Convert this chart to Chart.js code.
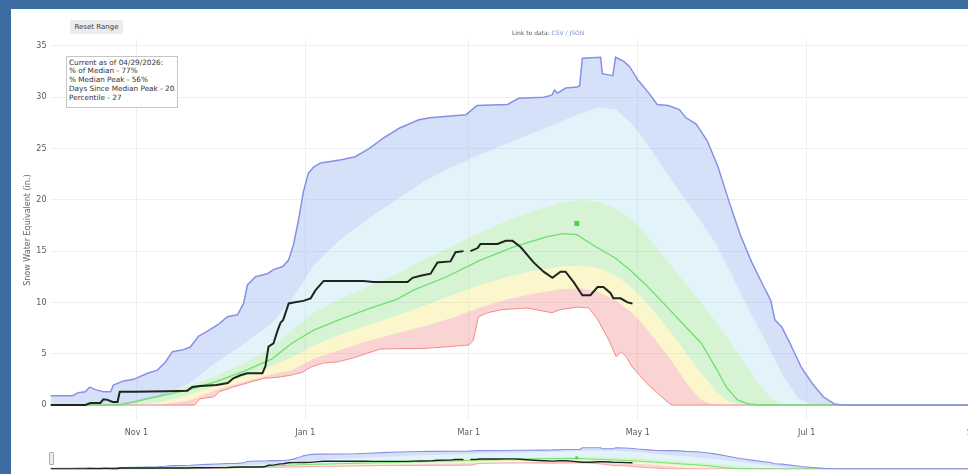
<!DOCTYPE html>
<html lang="en">
<head>
<meta charset="UTF-8">
<title>Snow Water Equivalent</title>
<script src="https://cdn.jsdelivr.net/npm/chart.js"></script>
<style>
  * { box-sizing: border-box; margin: 0; padding: 0; }
  html, body { width: 968px; height: 474px; overflow: hidden; }
  body { background: #3b6da1; position: relative; font-family: 'DejaVu Sans', sans-serif; }
  .panel { position: absolute; left: 11px; top: 9px; width: 1100px; height: 480px; background: #fff; }
  canvas { position: absolute; left: 0; }
  #swe { top: 0; }
  #slider { top: 440px; }
  .reset {
    position: absolute; left: 70px; top: 20px; width: 53px; height: 14px;
    background: #ececec; border-radius: 2px;
    font-size: 7px; line-height: 14px; color: #444; text-align: center;
  }
  .datalink { position: absolute; left: 512px; top: 29px; font-size: 6px; color: #555; white-space: nowrap; }
  .datalink span { color: #7b93d6; }
  .info {
    position: absolute; left: 66px; top: 56px; width: 112px; height: 52px;
    border: 1px solid #c6c6c6; background: #fff; padding: 1.5px 2px;
    font-size: 7.3px; line-height: 8.8px; color: #333; white-space: nowrap;
  }
  .grabber {
    position: absolute; left: 49px; top: 452px; width: 5px; height: 13px;
    background: #eee; border: 1px solid #aaa; border-radius: 1px;
  }
</style>
</head>
<body>
  <div class="panel"></div>
  <canvas id="swe" width="1100" height="445"></canvas>
  <canvas id="slider" width="1100" height="34"></canvas>
  <div class="reset">Reset Range</div>
  <div class="datalink">Link to data: <span>CSV / JSON</span></div>
  <div class="info">
    Current as of 04/29/2026:<br>
    % of Median - 77%<br>
    % Median Peak - 56%<br>
    Days Since Median Peak - 20<br>
    Percentile - 27
  </div>
  <div class="grabber"></div>

<script>
  // x values are days of the water year (0 = Oct 1)
  const tickDays   = [31, 92, 151, 212, 273, 335];
  const tickLabels = ['Nov 1', 'Jan 1', 'Mar 1', 'May 1', 'Jul 1', 'Sep 1'];
  const yTicks     = [0, 5, 10, 15, 20, 25, 30, 35];

  // percentile bands (shared day grid)
  const bandDays = [0, 20, 30, 40, 50, 60, 70, 80, 87, 95, 105, 115, 125, 135, 145, 155, 165, 175, 185, 192,
                    198, 204, 210, 215, 220, 225, 230, 235, 240, 245, 250, 255, 260, 265, 270, 275, 364];
  const p10 = [0, 0, 0, 0.05, 0.45, 1.5, 2.3, 3.0, 3.4, 4.5, 5.4, 6.3, 7.0, 7.7, 8.5, 9.5, 10.3, 10.9, 11.3, 11.4,
               11.0, 10.2, 9.0, 7.5, 5.8, 4.0, 2.0, 0.5, 0, 0, 0, 0, 0, 0, 0, 0, 0];
  const p30 = [0, 0, 0, 0.3, 1.0, 1.9, 2.8, 3.8, 4.6, 5.8, 6.9, 7.8, 8.7, 9.7, 10.7, 11.7, 12.5, 13.1, 13.5, 13.6,
               13.3, 12.6, 11.4, 10.0, 8.4, 6.7, 4.9, 3.1, 1.4, 0.3, 0, 0, 0, 0, 0, 0, 0];
  const p70 = [0, 0, 0.4, 1.1, 1.9, 2.9, 4.1, 5.6, 7.3, 9.0, 10.4, 11.6, 12.8, 14.2, 15.5, 16.8, 18.0, 19.0, 19.8, 20.0,
               19.8, 19.2, 18.0, 16.6, 15.0, 13.3, 11.6, 10.0, 8.2, 6.3, 4.3, 2.3, 0.7, 0, 0, 0, 0];
  const p90 = [0, 0, 0.2, 0.9, 2.1, 4.2, 6.0, 8.0, 10.2, 13.6, 16.2, 18.2, 20.0, 21.8, 23.2, 24.4, 25.5, 26.6, 27.7, 28.5,
               29.0, 28.8, 27.4, 25.6, 23.6, 21.6, 19.7, 17.8, 15.8, 13.2, 10.4, 7.8, 5.2, 2.6, 0.6, 0, 0];

  // median
  const medDays = [0, 25, 30, 40, 50, 60, 70, 80, 87, 95, 105, 115, 125, 131, 143, 155, 167, 179, 185, 190,
                   197, 204, 209, 215, 221, 228, 235, 240, 244, 248, 252, 256, 364];
  const medSwe  = [0, 0, 0.3, 0.9, 1.5, 2.3, 3.3, 4.5, 6.0, 7.3, 8.4, 9.4, 10.3, 11.2, 12.5, 14.1, 15.4, 16.4, 16.7, 16.6,
                   15.4, 14.3, 13.2, 11.7, 10.0, 8.0, 6.0, 3.7, 1.75, 0.5, 0.1, 0, 0];

  // max of record
  const maxDays = [0, 8, 10, 12.6, 14.1, 16.2, 19.1, 21.7, 22.7, 26.4, 30, 35, 38.6, 41.5, 44, 48, 50.5, 53.4, 56.7, 60.3,
                   63.9, 67.5, 69.7, 71.1, 74, 78.3, 80.5, 83.8, 85.9, 87.7, 89.5, 91.3, 93.1, 95, 97.5, 105, 110, 115, 120, 126,
                   133, 137, 150, 154, 165, 169, 178, 181, 182, 183, 186, 190, 191, 192, 198.6, 199.2, 203, 204, 207, 209,
                   212, 216, 219, 223, 227, 229.4, 233, 237, 241, 245, 249, 253, 257, 260, 261.5, 264, 267, 271, 275, 279,
                   283, 286, 364];
  const maxSwe  = [0.9, 0.9, 1.2, 1.3, 1.75, 1.5, 1.3, 1.3, 1.95, 2.35, 2.5, 3.1, 3.4, 4.2, 5.2, 5.4, 5.65, 6.7, 7.2, 7.8,
                   8.6, 8.8, 9.9, 11.7, 12.5, 12.8, 13.2, 13.5, 14.1, 15.6, 18.0, 20.8, 22.6, 23.2, 23.6, 23.9, 24.2, 25.0, 26.0, 27.0,
                   27.8, 28.0, 28.3, 29.2, 29.3, 29.9, 30.0, 30.2, 30.7, 30.4, 30.9, 31.0, 31.1, 33.8, 33.9, 32.3, 32.1, 33.9, 33.5, 33.0,
                   31.7, 30.4, 29.3, 29.2, 28.8, 28.0, 27.4, 25.8, 23.2, 19.8, 16.6, 14.0, 11.8, 10.2, 8.3, 7.6, 6.0, 3.7, 2.1, 0.8,
                   0.1, 0, 0];

  // min of record
  const minDays = [0, 52, 54, 59, 61, 66, 71, 77, 82, 86.6, 91, 94, 98.6, 103.6, 109.4, 114.4, 119, 126, 134, 139.5,
                   151, 152.6, 154.5, 157.8, 163, 172, 181, 184, 190.5, 194.4, 197.6, 201.6, 204.2, 206.1, 208.1, 210, 212.7, 215.3, 219.2, 223.1,
                   224.4, 364];
  const minSwe  = [0, 0, 0.6, 0.8, 1.3, 1.75, 2.15, 2.6, 2.7, 2.9, 3.2, 3.7, 4.1, 4.2, 4.6, 5.05, 5.45, 5.5, 5.5, 5.6,
                   5.85, 6.3, 8.6, 9.0, 9.3, 9.45, 9.0, 9.3, 9.55, 9.45, 8.3, 6.3, 4.7, 5.2, 4.6, 3.7, 2.9, 2.1, 1.15, 0.2,
                   0, 0];

  // current water year (gap near Mar 1)
  const curDays = [0, 12.6, 14.4, 18, 19.1, 20.6, 22.4, 24.2, 25, 30, 42, 49.4, 51.2, 54, 60, 64, 66, 68.6, 71, 76.5,
                   77.6, 78.7, 80.5, 81.9, 83, 84, 86, 87.7, 91.3, 93.9, 95.7, 98.6, 113, 116.6, 128.9, 130.7, 133.6, 137.2, 139.7, 144.4,
                   146.2, 149.1, 150, 151.6, 154.2, 155.2, 161.4, 164.3, 166.8, 169.7, 174.4, 178, 181.2, 184.1, 185.9, 188.8, 192, 194.9, 197.5, 199.6,
                   202.2, 203.2, 205.8, 208.3, 210.1];
  const curSwe  = [0, 0, 0.2, 0.2, 0.55, 0.5, 0.3, 0.3, 1.3, 1.3, 1.35, 1.4, 1.75, 1.85, 1.95, 2.15, 2.6, 2.9, 3.1, 3.1,
                   3.8, 5.7, 6.0, 7.2, 8.0, 8.3, 9.9, 10.0, 10.15, 10.4, 11.2, 12.1, 12.1, 12.0, 12.0, 12.4, 12.6, 12.8, 13.9, 14.0,
                   14.9, 15.0, null, 15.0, 15.3, 15.7, 15.7, 16.0, 16.0, 15.4, 13.9, 13.0, 12.4, 13.0, 13.0, 12.0, 10.7, 10.7, 11.5, 11.5,
                   10.9, 10.4, 10.4, 10.0, 9.9];

  // median peak marker
  const peakDay = [190];
  const peakSwe = [17.7];

  const pts = (xs, ys) => xs.map((x, i) => ({ x, y: ys[i] }));
  const none = 'rgba(0,0,0,0)';

  function makeDatasets(small) {
    const w = small ? 0.7 : 1;
    return [
      { data: pts(peakDay, peakSwe), showLine: false, pointStyle: 'rect', pointRadius: small ? 2 : 3.5,
        pointBackgroundColor: '#3fdc3f', pointBorderWidth: 0, fill: false },
      { data: pts(curDays, curSwe), borderColor: '#1d261d', borderWidth: 2 * w, spanGaps: false, fill: false },
      { data: pts(maxDays, maxSwe), borderColor: '#8a8fe6', borderWidth: 1.5 * w, fill: 3, backgroundColor: 'rgba(150,180,240,0.40)' },
      { data: pts(bandDays, p90), borderColor: none, borderWidth: 0, fill: 4, backgroundColor: 'rgba(160,220,240,0.30)' },
      { data: pts(bandDays, p70), borderColor: none, borderWidth: 0, fill: 5, backgroundColor: 'rgba(120,220,110,0.30)' },
      { data: pts(bandDays, p30), borderColor: none, borderWidth: 0, fill: 6, backgroundColor: 'rgba(245,230,110,0.35)' },
      { data: pts(bandDays, p10), borderColor: none, borderWidth: 0, fill: 8, backgroundColor: 'rgba(240,130,130,0.35)' },
      { data: pts(medDays, medSwe), borderColor: '#6fdf6f', borderWidth: 1.3 * w, fill: false },
      { data: pts(minDays, minSwe), borderColor: '#f08c8c', borderWidth: 1 * w, fill: false }
    ];
  }

  Chart.defaults.font.family = "'DejaVu Sans', sans-serif";

  const baseOptions = {
    responsive: false,
    animation: false,
    events: [],
    elements: { point: { radius: 0 }, line: { tension: 0 } },
    plugins: {
      legend: { display: false },
      tooltip: { enabled: false },
      filler: { drawTime: 'beforeDatasetsDraw' }
    }
  };

  new Chart(document.getElementById('swe'), {
    type: 'line',
    data: { datasets: makeDatasets(false) },
    options: {
      ...baseOptions,
      layout: { padding: { left: 12, top: 39.8, right: 41.2, bottom: 0 } },
      scales: {
        x: {
          type: 'linear', min: 0, max: 364,
          border: { display: false },
          grid: { color: '#efefef', drawTicks: false },
          afterBuildTicks: s => { s.ticks = tickDays.map(v => ({ value: v })); },
          afterFit: s => { s.height = 24.6; },
          ticks: {
            padding: 8, maxRotation: 0, autoSkip: false, color: '#5a5a5a', font: { size: 8 },
            callback: v => tickLabels[tickDays.indexOf(v)]
          }
        },
        y: {
          min: -1.5, max: 35.6,
          border: { display: false },
          grid: { color: '#efefef', drawTicks: false },
          afterBuildTicks: s => { s.ticks = yTicks.map(v => ({ value: v })); },
          afterFit: s => { s.width = 38.5; },
          ticks: { padding: 4, color: '#5a5a5a', font: { size: 8 } },
          title: {
            display: true, text: 'Snow Water Equivalent (in.)', color: '#666',
            font: { size: 8 }, padding: { top: 11, bottom: 0 }
          }
        }
      }
    }
  });

  // range slider preview
  new Chart(document.getElementById('slider'), {
    type: 'line',
    data: { datasets: makeDatasets(true) },
    options: {
      ...baseOptions,
      layout: { padding: { left: 50.5, top: 7, right: 41.2, bottom: 4.5 } },
      scales: {
        x: { type: 'linear', min: 0, max: 364, display: false },
        y: { min: -1, max: 35, display: false }
      }
    }
  });
</script>
</body>
</html>
